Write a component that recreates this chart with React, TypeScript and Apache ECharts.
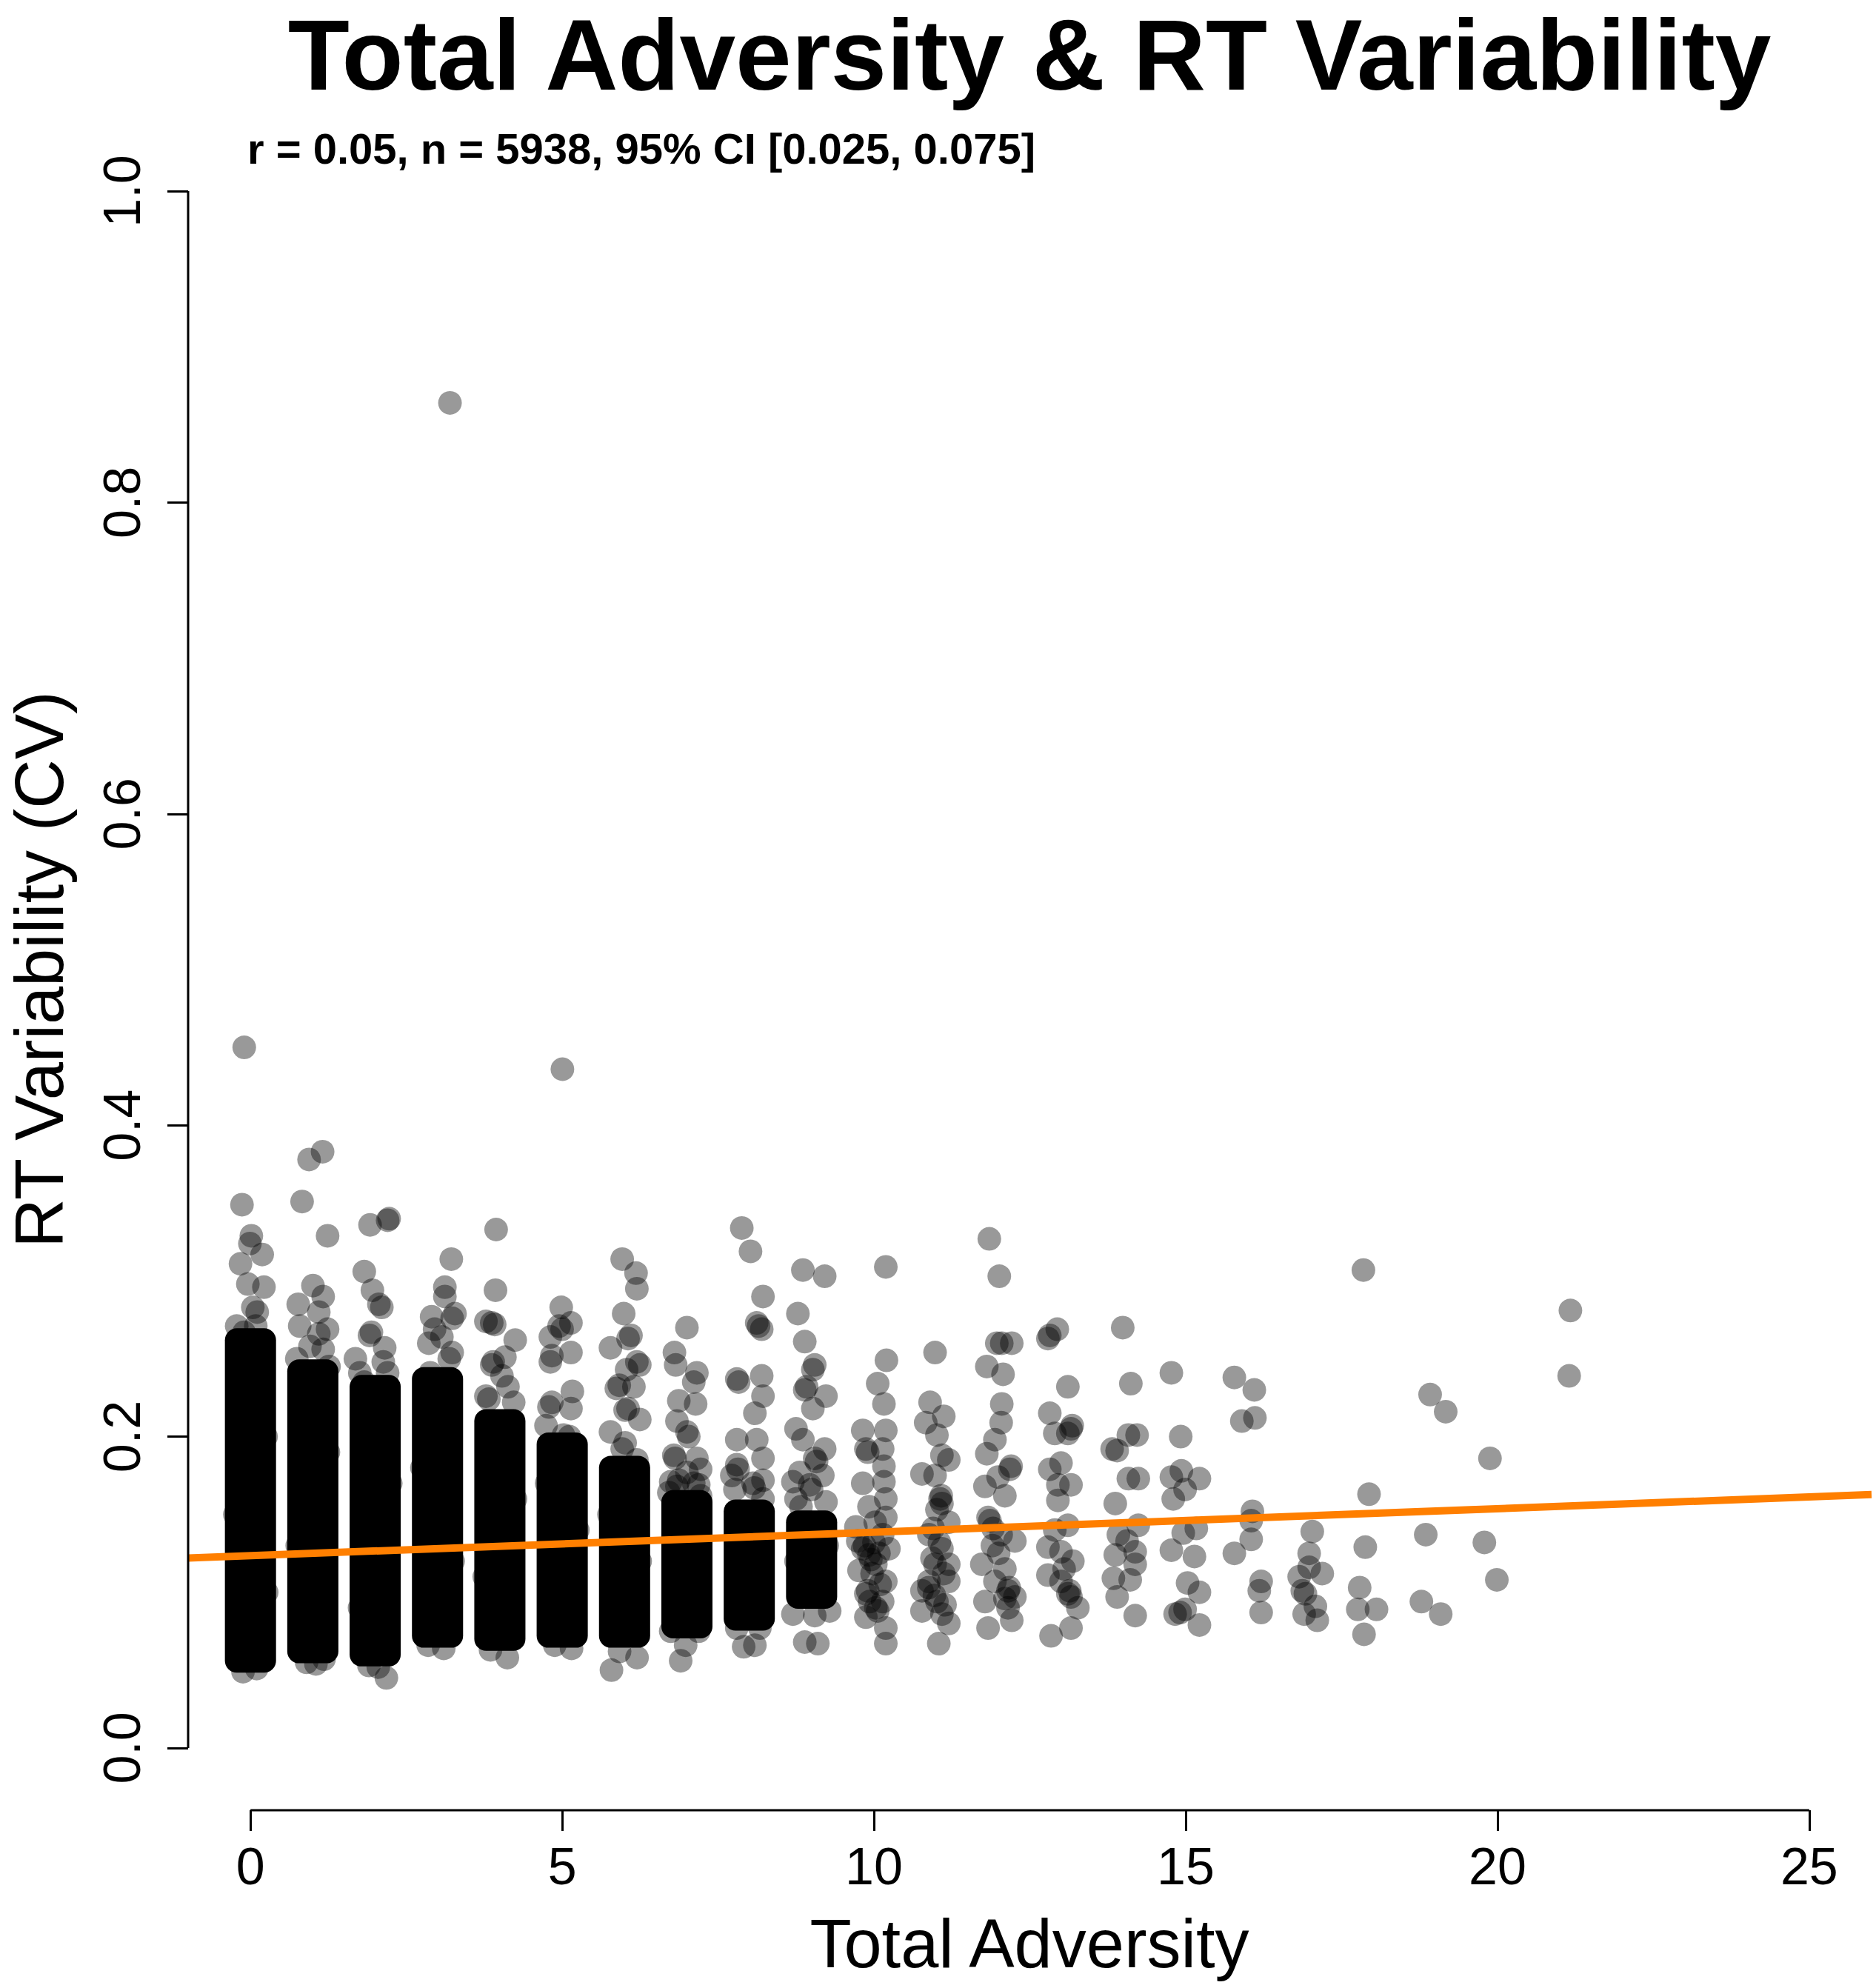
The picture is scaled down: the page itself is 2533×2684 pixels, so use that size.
import React, { useEffect, useRef } from "react";
import * as echarts from "echarts";

const TITLE = "Total Adversity & RT Variability";
const SUBTITLE = "r = 0.05, n = 5938, 95% CI [0.025, 0.075]";
const X_NAME = "Total Adversity";
const Y_NAME = "RT Variability (CV)";

const X_TICKS = [0, 5, 10, 15, 20, 25];
const Y_TICKS = [0, 0.2, 0.4, 0.6, 0.8, 1.0];

const FIT_INTERCEPT = 0.1235;
const FIT_SLOPE = 0.00151;

// Dense (solid) part of each column: x, lowest and highest point centre
const CORE_X = [0, 1, 2, 3, 4, 5, 6, 7, 8, 9];
const CORE_LOW = [0.056, 0.062, 0.06, 0.072, 0.07, 0.072, 0.072, 0.078, 0.083, 0.097];
const CORE_HIGH = [0.262, 0.242, 0.232, 0.237, 0.21, 0.195, 0.18, 0.158, 0.152, 0.145];

const col0 = [[-0.1, 0.45], [-0.136, 0.349], [0.014, 0.329], [-0.009, 0.324], [0.188, 0.317], [-0.16, 0.311], [-0.042, 0.298], [0.216, 0.296], [0.038, 0.283], [0.108, 0.28], [-0.221, 0.271], [-0.103, 0.267], [0.085, 0.271], [0.18, 0.26], [-0.12, 0.049], [0.1, 0.051], [0.25, 0.2], [-0.25, 0.15], [0.26, 0.1]];
const col1 = [[1.157, 0.383], [0.94, 0.378], [0.828, 0.351], [1.237, 0.329], [1.002, 0.297], [1.166, 0.29], [0.766, 0.285], [1.096, 0.28], [0.79, 0.271], [1.237, 0.269], [1.096, 0.266], [0.954, 0.258], [1.166, 0.256], [0.743, 0.25], [1.26, 0.245], [0.9, 0.055], [1.05, 0.054], [1.18, 0.057], [1.25, 0.19], [0.75, 0.13]];
const col2 = [[1.918, 0.336], [2.224, 0.34], [2.2, 0.339], [1.825, 0.306], [1.956, 0.294], [2.107, 0.283], [2.06, 0.285], [1.909, 0.265], [1.94, 0.267], [1.683, 0.25], [2.153, 0.257], [2.13, 0.248], [1.754, 0.241], [2.2, 0.241], [1.825, 0.235], [2.18, 0.045], [1.9, 0.053], [2.05, 0.052], [2.25, 0.17], [1.75, 0.09]];
const col3 = [[3.2, 0.864], [3.221, 0.314], [3.118, 0.296], [3.118, 0.29], [2.906, 0.277], [3.235, 0.276], [2.953, 0.269], [3.07, 0.264], [3.235, 0.254], [2.883, 0.241], [3.188, 0.25], [3.28, 0.279], [2.86, 0.26], [2.85, 0.066], [3.1, 0.064], [2.75, 0.18], [3.25, 0.12]];
const col4 = [[3.94, 0.333], [3.93, 0.294], [3.776, 0.274], [3.87, 0.273], [3.917, 0.272], [4.246, 0.262], [4.081, 0.251], [3.87, 0.246], [3.893, 0.248], [4.034, 0.239], [3.776, 0.226], [3.823, 0.224], [4.222, 0.222], [4.13, 0.232], [4.12, 0.058], [3.85, 0.063], [4.25, 0.16], [3.75, 0.11]];
const col5 = [[5.003, 0.436], [4.984, 0.283], [5.14, 0.273], [4.998, 0.269], [4.95, 0.271], [4.81, 0.264], [5.14, 0.254], [4.81, 0.248], [4.834, 0.252], [5.163, 0.229], [4.787, 0.219], [4.834, 0.222], [5.14, 0.218], [5.116, 0.2], [5.02, 0.201], [4.74, 0.207], [4.88, 0.066], [5.15, 0.064], [5.25, 0.14], [4.75, 0.17]];
const col6 = [[5.962, 0.314], [6.184, 0.305], [6.197, 0.295], [5.986, 0.279], [6.103, 0.265], [6.056, 0.263], [5.774, 0.257], [6.244, 0.246], [6.197, 0.248], [6.033, 0.243], [5.868, 0.231], [5.915, 0.233], [6.15, 0.232], [6.009, 0.217], [6.056, 0.218], [6.244, 0.211], [5.774, 0.203], [6.009, 0.196], [5.962, 0.192], [6.197, 0.185], [5.79, 0.05], [6.2, 0.058], [5.92, 0.062], [6.25, 0.12], [5.75, 0.15]];
const col7 = [[7.0, 0.27], [6.8, 0.254], [6.82, 0.246], [7.16, 0.241], [7.11, 0.235], [6.87, 0.223], [7.14, 0.221], [6.84, 0.21], [7.0, 0.203], [7.03, 0.2], [6.79, 0.188], [6.81, 0.186], [7.16, 0.186], [7.22, 0.179], [6.74, 0.171], [7.0, 0.177], [7.19, 0.169], [6.84, 0.168], [6.87, 0.172], [7.11, 0.17], [6.71, 0.164], [7.22, 0.162], [6.9, 0.056], [6.98, 0.066], [7.19, 0.075], [6.74, 0.075]];
const col8 = [[7.88, 0.334], [8.02, 0.319], [8.22, 0.29], [8.12, 0.273], [8.15, 0.271], [8.2, 0.269], [7.8, 0.237], [7.83, 0.235], [8.2, 0.239], [8.22, 0.226], [8.09, 0.215], [7.8, 0.198], [8.12, 0.198], [8.22, 0.186], [7.8, 0.182], [7.82, 0.179], [7.72, 0.175], [8.06, 0.17], [8.08, 0.167], [8.22, 0.172], [7.77, 0.166], [8.22, 0.16], [7.91, 0.065], [8.09, 0.066], [7.8, 0.077], [8.17, 0.077]];
const col9 = [[8.86, 0.307], [9.21, 0.303], [8.78, 0.279], [8.89, 0.261], [9.02, 0.243], [9.05, 0.246], [8.89, 0.23], [8.92, 0.232], [9.23, 0.226], [9.02, 0.218], [8.75, 0.205], [8.86, 0.198], [9.21, 0.192], [9.05, 0.186], [9.08, 0.184], [8.81, 0.177], [8.7, 0.171], [9.18, 0.175], [8.97, 0.169], [9.0, 0.166], [8.75, 0.16], [9.23, 0.158], [8.83, 0.155], [8.89, 0.068], [9.1, 0.067], [8.7, 0.086], [9.29, 0.088], [8.75, 0.12], [9.25, 0.13], [9.05, 0.085], [8.8, 0.1]];
const col10 = [[10.19, 0.309], [10.2, 0.249], [10.06, 0.234], [10.16, 0.221], [9.82, 0.204], [10.19, 0.204], [9.87, 0.192], [9.9, 0.19], [10.14, 0.192], [10.16, 0.181], [9.82, 0.17], [10.16, 0.171], [9.92, 0.155], [10.19, 0.16], [9.71, 0.142], [10.19, 0.148], [10.14, 0.137], [9.82, 0.128], [9.85, 0.13], [9.92, 0.124], [9.95, 0.121], [10.03, 0.118], [10.19, 0.107], [9.87, 0.099], [9.9, 0.101], [10.14, 0.094], [10.03, 0.09], [10.06, 0.088], [9.87, 0.084], [10.19, 0.077], [10.19, 0.067], [9.76, 0.114], [10.24, 0.128], [9.74, 0.133], [9.97, 0.112], [10.1, 0.105], [10.0, 0.132], [10.08, 0.125], [9.93, 0.094], [10.02, 0.145]];
const col11 = [[10.98, 0.254], [10.9, 0.222], [11.12, 0.213], [10.83, 0.209], [11.01, 0.201], [11.09, 0.188], [11.2, 0.185], [10.77, 0.176], [10.98, 0.175], [11.06, 0.16], [11.08, 0.162], [11.09, 0.157], [11.01, 0.153], [11.2, 0.145], [10.88, 0.137], [11.09, 0.128], [11.2, 0.118], [10.98, 0.118], [10.88, 0.107], [11.2, 0.107], [10.88, 0.103], [10.77, 0.088], [11.09, 0.086], [11.2, 0.08], [11.04, 0.067], [10.77, 0.101], [11.01, 0.094], [10.95, 0.141], [11.05, 0.132], [10.93, 0.122], [11.12, 0.112], [10.97, 0.098], [11.14, 0.092]];
const col12 = [[11.85, 0.327], [12.01, 0.303], [11.97, 0.26], [12.05, 0.26], [12.21, 0.26], [11.81, 0.245], [12.07, 0.24], [12.05, 0.221], [12.04, 0.209], [11.94, 0.198], [11.81, 0.189], [12.18, 0.179], [12.2, 0.181], [11.99, 0.174], [11.78, 0.168], [12.1, 0.162], [11.83, 0.148], [11.86, 0.146], [11.91, 0.141], [12.04, 0.137], [12.26, 0.133], [11.73, 0.118], [11.94, 0.107], [12.15, 0.101], [12.17, 0.103], [12.1, 0.096], [11.78, 0.094], [12.15, 0.09], [11.83, 0.077], [12.21, 0.082], [12.26, 0.097], [12.0, 0.125], [11.9, 0.13], [12.1, 0.115]];
const col13 = [[12.94, 0.269], [12.79, 0.263], [12.82, 0.265], [13.11, 0.232], [12.82, 0.215], [12.9, 0.202], [13.16, 0.205], [13.18, 0.207], [13.11, 0.202], [12.82, 0.179], [13.0, 0.183], [12.95, 0.169], [13.16, 0.169], [12.95, 0.159], [13.11, 0.143], [12.79, 0.129], [13.0, 0.126], [13.19, 0.12], [12.79, 0.111], [13.0, 0.107], [13.11, 0.099], [13.14, 0.101], [13.16, 0.097], [13.27, 0.09], [12.84, 0.072], [13.16, 0.077], [12.9, 0.14], [13.05, 0.115]];
const col14 = [[13.99, 0.27], [14.12, 0.234], [14.08, 0.201], [14.22, 0.201], [13.82, 0.192], [13.9, 0.191], [14.08, 0.173], [14.24, 0.173], [13.87, 0.157], [14.24, 0.143], [13.92, 0.137], [14.06, 0.133], [14.19, 0.126], [14.19, 0.118], [13.87, 0.124], [13.84, 0.109], [14.11, 0.108], [13.9, 0.097], [14.19, 0.085]];
const col15 = [[14.77, 0.241], [14.92, 0.2], [14.77, 0.174], [14.93, 0.178], [15.22, 0.173], [14.99, 0.166], [14.8, 0.16], [14.96, 0.138], [15.17, 0.141], [14.77, 0.127], [15.14, 0.123], [15.03, 0.106], [15.22, 0.1], [14.83, 0.086], [14.91, 0.087], [14.99, 0.089], [15.22, 0.079]];
const col16 = [[15.78, 0.238], [16.1, 0.23], [15.9, 0.21], [16.11, 0.212], [16.07, 0.152], [16.05, 0.146], [16.05, 0.134], [15.78, 0.125], [16.21, 0.107], [16.18, 0.101], [16.21, 0.087]];
const col17 = [[17.03, 0.139], [16.98, 0.125], [16.98, 0.116], [16.82, 0.11], [17.19, 0.112], [16.87, 0.101], [16.92, 0.099], [17.08, 0.091], [16.9, 0.086], [17.11, 0.082]];
const col18 = [[17.85, 0.307], [17.94, 0.163], [17.88, 0.129], [17.79, 0.103], [17.76, 0.089], [18.06, 0.089], [17.86, 0.073]];
const col19 = [[18.92, 0.227], [19.17, 0.216], [18.85, 0.137], [18.78, 0.094], [19.09, 0.086]];
const col20 = [[19.88, 0.186], [19.79, 0.132], [19.99, 0.108]];
const col21 = [[21.17, 0.281], [21.15, 0.239]];

const POINTS = [
  ...col0, ...col1, ...col2, ...col3, ...col4, ...col5, ...col6, ...col7,
  ...col8, ...col9, ...col10, ...col11, ...col12, ...col13, ...col14,
  ...col15, ...col16, ...col17, ...col18, ...col19, ...col20, ...col21,
];

const X_MIN = -1;
const X_MAX = 26;
const Y_MIN = -0.04;
const Y_MAX = 1.04;
const SYMBOL = 32;
const JITTER = 0.22;
const FONT = '"Liberation Sans", Arial, Helvetica, sans-serif';

export default function App() {
  const ref = useRef<HTMLDivElement>(null);

  useEffect(() => {
    document.body.style.margin = "0";
    if (!ref.current) return;
    const chart = echarts.init(ref.current, undefined, { renderer: "svg" });

    const coreData = CORE_X.map((x, i) => [x, CORE_LOW[i], CORE_HIGH[i]]);
    const fitLine = [
      [X_MIN, FIT_INTERCEPT + FIT_SLOPE * X_MIN],
      [X_MAX, FIT_INTERCEPT + FIT_SLOPE * X_MAX],
    ];

    chart.setOption({
      animation: false,
      backgroundColor: "#ffffff",
      grid: {
        left: 254,
        right: 6,
        top: 174,
        bottom: 240,
        containLabel: false,
        outerBoundsMode: "none",
      },
      xAxis: {
        type: "value",
        min: X_MIN,
        max: X_MAX,
        axisLine: { show: false, onZero: false },
        splitLine: { show: false },
        axisTick: {
          show: true,
          inside: false,
          length: 28,
          customValues: X_TICKS,
          lineStyle: { color: "#000", width: 3 },
        },
        axisLabel: {
          customValues: X_TICKS,
          fontSize: 70,
          color: "#000",
          fontFamily: FONT,
          margin: 41,
        },
      },
      yAxis: {
        type: "value",
        min: Y_MIN,
        max: Y_MAX,
        axisLine: { show: false, onZero: false },
        splitLine: { show: false },
        axisTick: {
          show: true,
          inside: false,
          length: 28,
          customValues: Y_TICKS,
          lineStyle: { color: "#000", width: 3 },
        },
        axisLabel: {
          customValues: Y_TICKS,
          fontSize: 70,
          color: "#000",
          fontFamily: FONT,
          rotate: 90,
          margin: 54,
          formatter: (v: number) => v.toFixed(1),
        },
      },
      graphic: [
        {
          type: "text",
          x: 1390,
          y: 74,
          style: {
            text: TITLE,
            font: `bold 136px ${FONT}`,
            lineHeight: 110,
            fill: "#000",
            textAlign: "center",
            textVerticalAlign: "middle",
          },
        },
        {
          type: "text",
          x: 334,
          y: 200,
          style: {
            text: SUBTITLE,
            font: `bold 58px ${FONT}`,
            fill: "#000",
            textAlign: "left",
            textVerticalAlign: "middle",
          },
        },
        {
          type: "text",
          x: 1390,
          y: 2624,
          style: {
            text: X_NAME,
            font: `92px ${FONT}`,
            fill: "#000",
            textAlign: "center",
            textVerticalAlign: "middle",
          },
        },
        {
          type: "text",
          x: 53,
          y: 1309,
          rotation: Math.PI / 2,
          style: {
            text: Y_NAME,
            font: `92px ${FONT}`,
            lineHeight: 76,
            fill: "#000",
            textAlign: "center",
            textVerticalAlign: "middle",
          },
        },
      ],
      series: [
        {
          type: "custom",
          name: "dense",
          z: 2,
          silent: true,
          clip: false,
          encode: { x: 0, y: [1, 2] },
          data: coreData,
          renderItem: (params: any, api: any) => {
            const x = api.value(0);
            const lo = api.value(1);
            const hi = api.value(2);
            const p1 = api.coord([x - JITTER, hi]);
            const p2 = api.coord([x + JITTER, lo]);
            const r = SYMBOL / 2;
            return {
              type: "rect",
              shape: {
                x: p1[0] - r,
                y: p1[1] - r,
                width: p2[0] - p1[0] + 2 * r,
                height: p2[1] - p1[1] + 2 * r,
                r: r,
              },
              style: { fill: "#000" },
            };
          },
        },
        {
          type: "scatter",
          name: "points",
          z: 3,
          silent: true,
          symbol: "circle",
          symbolSize: SYMBOL,
          itemStyle: { color: "rgba(0,0,0,0.5)" },
          data: POINTS,
        },
        {
          type: "line",
          name: "fit",
          z: 4,
          silent: true,
          symbol: "none",
          lineStyle: { color: "#FF7F00", width: 10 },
          data: fitLine,
        },
        {
          type: "line",
          name: "xAxisLine",
          z: 5,
          silent: true,
          clip: false,
          symbol: "none",
          lineStyle: { color: "#000", width: 3 },
          data: [
            [X_TICKS[0], Y_MIN],
            [X_TICKS[X_TICKS.length - 1], Y_MIN],
          ],
        },
        {
          type: "line",
          name: "yAxisLine",
          z: 5,
          silent: true,
          clip: false,
          symbol: "none",
          lineStyle: { color: "#000", width: 3 },
          data: [
            [X_MIN, Y_TICKS[0]],
            [X_MIN, Y_TICKS[Y_TICKS.length - 1]],
          ],
        },
      ],
    });

    return () => chart.dispose();
  }, []);

  return (
    <div
      ref={ref}
      style={{ position: "absolute", left: 0, top: 0, width: 2533, height: 2684 }}
    />
  );
}
